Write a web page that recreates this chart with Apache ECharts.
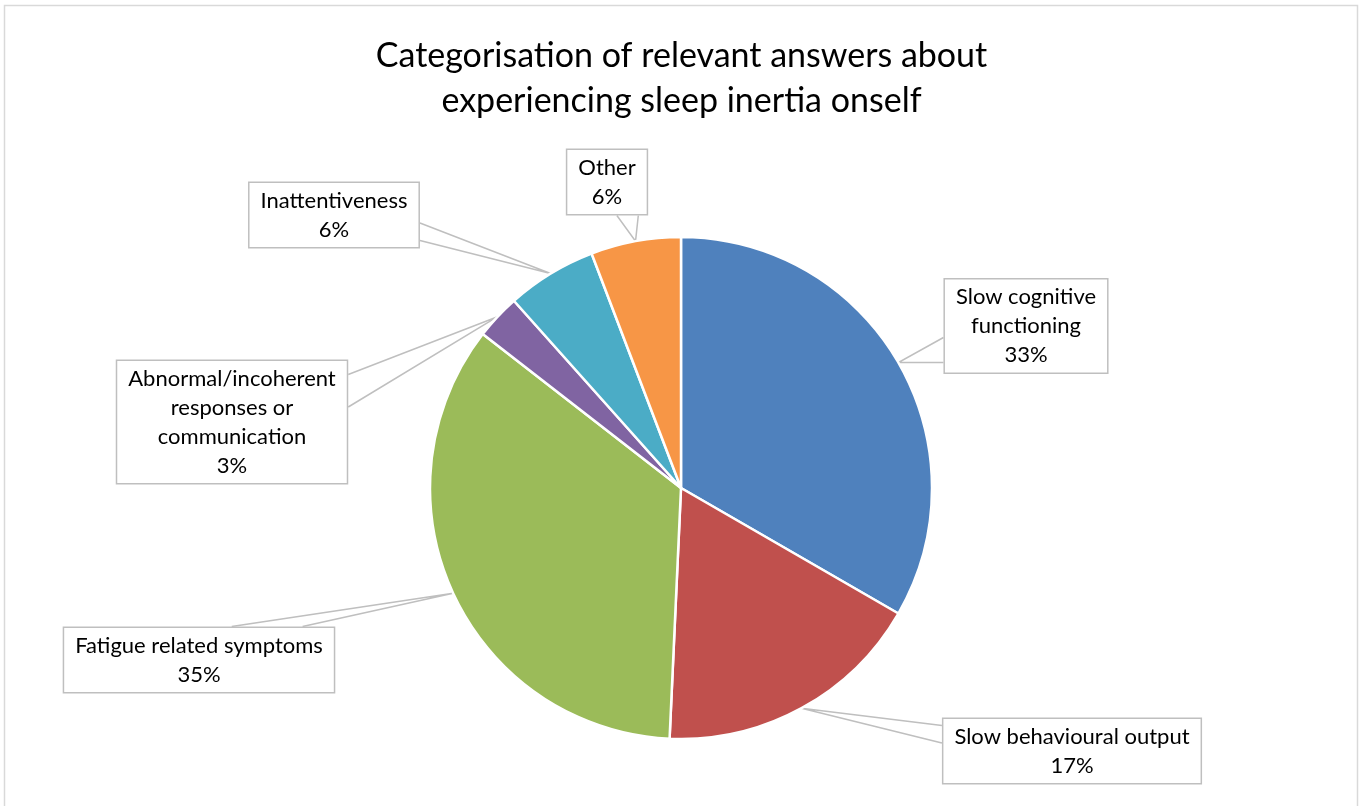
<!DOCTYPE html>
<html><head><meta charset="utf-8">
<script src="https://cdn.jsdelivr.net/npm/echarts@6/dist/echarts.min.js"></script>
<style>html,body{margin:0;padding:0;background:#fff}#c{width:1363px;height:806px}</style>
</head><body><div id="c"></div>
<script>
// ---- data ----
const titleText = "Categorisation of relevant answers about\nexperiencing sleep inertia onself";
const categories = [
  "Slow cognitive\nfunctioning",
  "Slow behavioural output",
  "Fatigue related symptoms",
  "Abnormal/incoherent\nresponses or\ncommunication",
  "Inattentiveness",
  "Other"
];
const counts = [23, 12, 24, 2, 4, 4];
const colors = ["#4F81BD", "#C0504D", "#9BBB59", "#8064A2", "#4BACC6", "#F79646"];

// ---- layout (label box centres and the side the callout wedge leaves from) ----
const labelCenters = [[1026, 326], [1072, 751], [199, 660], [232, 422], [334, 215], [607, 182]];
const wedgeSides = ["left", "left", "top", "right", "right", "bottom"];

const total = counts.reduce((a, b) => a + b, 0);
const FONT = "Lato, 'Open Sans', sans-serif";

function clamp(v, a, b) { return Math.max(a, Math.min(b, v)); }

function wedgePoints(tip, box, side) {
  let pA, pB;
  if (side === "left" || side === "right") {
    const x = side === "left" ? box.x0 : box.x1;
    const len = box.y1 - box.y0;
    const c = clamp(tip[1], box.y0 + 0.25 * len, box.y1 - 0.25 * len);
    const h = 0.13 * len;
    pA = [x, c - h]; pB = [x, c + h];
  } else {
    const y = side === "top" ? box.y0 : box.y1;
    const len = box.x1 - box.x0;
    const c = clamp(tip[0], box.x0 + 0.25 * len, box.x1 - 0.25 * len);
    const h = 0.13 * len;
    pA = [c - h, y]; pB = [c + h, y];
  }
  return [pA, tip, pB];
}

const chart = echarts.init(document.getElementById('c'), null, {renderer: 'canvas'});
chart.setOption({
  backgroundColor: '#ffffff',
  animation: false,
  title: {
    text: titleText,
    left: 'center',
    top: 29,
    textStyle: {fontFamily: FONT, fontSize: 34, fontWeight: 'normal', color: '#000', lineHeight: 45}
  },
  graphic: [{
    type: 'rect', silent: true,
    shape: {x: 4.5, y: 5.5, width: 1353, height: 830},
    style: {fill: null, stroke: '#D9D9D9', lineWidth: 1.5}
  }],
  series: [{
    type: 'pie',
    center: [681, 488],
    radius: 251,
    startAngle: 90,
    clockwise: true,
    avoidLabelOverlap: false,
    data: categories.map((n, i) => ({name: n, value: counts[i], itemStyle: {color: colors[i]}})),
    itemStyle: {borderColor: '#fff', borderWidth: 2.5},
    label: {
      show: true,
      position: 'outside',
      formatter: p => p.name + "\n" + Math.round(p.value / total * 100) + "%",
      fontFamily: FONT,
      fontSize: 22,
      lineHeight: 29,
      color: '#000',
      align: 'center',
      backgroundColor: '#fff',
      borderColor: '#BFBFBF',
      borderWidth: 1.5,
      padding: [3, 11]
    },
    labelLine: {show: true, length: 10, length2: 10, lineStyle: {color: '#BFBFBF', width: 1.5}},
    labelLayout: function (params) {
      const i = params.dataIndex;
      const c = labelCenters[i];
      const w = params.labelRect.width, h = params.labelRect.height;
      const box = {x0: c[0] - w / 2, x1: c[0] + w / 2, y0: c[1] - h / 2, y1: c[1] + h / 2};
      const tip = params.labelLinePoints ? params.labelLinePoints[0] : [c[0], c[1]];
      return {
        x: c[0], y: c[1], align: 'center', verticalAlign: 'middle',
        labelLinePoints: wedgePoints(tip, box, wedgeSides[i])
      };
    }
  }]
});
</script></body></html>
